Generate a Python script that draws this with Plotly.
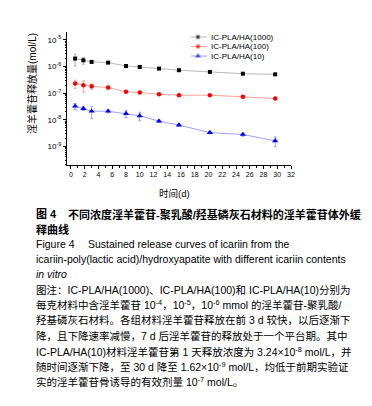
import plotly.graph_objects as go

# ---------------- data ----------------
days = [0.6, 1.8, 3.0, 5.4, 8.0, 10.0, 12.8, 15.7, 20.2, 25.0, 29.7]

ic1000 = [2.0e-6, 1.72e-6, 1.5e-6, 1.41e-6, 1.05e-6, 9.7e-7, 8.4e-7, 7.3e-7, 6.3e-7, 5.4e-7, 5.1e-7]
ic1000_err = [0.95e-6, 0.5e-6, 0.12e-6, 0.1e-6, 0.06e-6, 0.05e-6, 0.04e-6, 0.03e-6, 0.03e-6, 0.03e-6, 0.03e-6]

ic100 = [2.29e-7, 1.99e-7, 1.82e-7, 1.62e-7, 1.12e-7, 1.05e-7, 9.1e-8, 8.4e-8, 8.4e-8, 7.3e-8, 6.3e-8]
ic100_err = [0.78e-7, 0.9e-7, 0.4e-7, 0.2e-7, 0.08e-7, 0.06e-7, 0.05e-7, 0.05e-7, 0.05e-7, 0.05e-7, 0.05e-7]

ic10 = [3.24e-8, 2.65e-8, 2.1e-8, 2.1e-8, 1.72e-8, 1.41e-8, 8.9e-9, 6.3e-9, 3.3e-9, 2.8e-9, 1.62e-9]
ic10_err = [0.85e-8, 0.4e-8, 1.0e-8, 0.3e-8, 0.5e-8, 0.5e-8, 0.1e-8, 0.05e-8, 0.03e-8, 0.4e-9, 0.65e-9]

series_names = ["IC-PLA/HA(1000)", "IC-PLA/HA(100)", "IC-PLA/HA(10)"]
y_tick_vals = [1e-9, 1e-8, 1e-7, 1e-6, 1e-5]
y_tick_text = ["10<sup>-9</sup>", "10<sup>-8</sup>", "10<sup>-7</sup>", "10<sup>-6</sup>", "10<sup>-5</sup>"]
x_tick_vals = list(range(0, 33, 2))

# ---------------- styles ----------------
W, H = 372, 406
L, R, T, B = 59, 283, 24, 157   # plot area in pixels
FONT = "Liberation Sans, Arial, Noto Sans CJK SC, sans-serif"

styles = [
    dict(mc="#000000", lc="#b8b8b8", ec="#a0a0a0", sym="square", size=4),
    dict(mc="#ff0000", lc="#ffa0a0", ec="#ff8a8a", sym="circle", size=4.5),
    dict(mc="#0000ff", lc="#a0a0ff", ec="#8c8cff", sym="triangle-up", size=5.5),
]

def px(xp):
    return (xp - L) / (R - L)

def py(yp):
    return (B - yp) / (B - T)

fig = go.Figure()

for name, vals, errs, st in zip(series_names, [ic1000, ic100, ic10],
                                [ic1000_err, ic100_err, ic10_err], styles):
    fig.add_trace(go.Scatter(
        x=days, y=vals, name=name, mode="lines+markers",
        line=dict(color=st["lc"], width=1),
        marker=dict(color=st["mc"], symbol=st["sym"], size=st["size"]),
        error_y=dict(type="data", array=errs, visible=True, color=st["ec"],
                     thickness=0.8, width=1.5),
        showlegend=False, cliponaxis=False,
    ))

# manual compact legend on an overlay axis mapped to the plot area
leg_rows = [29, 38.5, 48]
for name, st, ry in zip(series_names, styles, leg_rows):
    fig.add_trace(go.Scatter(
        x=[px(183), px(190), px(199)], y=[py(ry)] * 3,
        xaxis="x2", yaxis="y2", mode="lines+markers",
        line=dict(color=st["lc"], width=1),
        marker=dict(color=st["mc"], symbol=st["sym"], size=[0, st["size"], 0]),
        showlegend=False, hoverinfo="skip", cliponaxis=False,
    ))
    fig.add_annotation(x=px(201), y=py(ry), xref="paper", yref="paper",
                       text=name, showarrow=False, xanchor="left", yanchor="middle",
                       font=dict(size=8, color="#000", family=FONT))

minor_y = [k * 10.0 ** n for n in range(-10, -4) for k in range(2, 10)]

fig.update_layout(
    width=W, height=H,
    margin=dict(l=L, r=W - R, t=T, b=H - B, pad=0),
    paper_bgcolor="white", plot_bgcolor="white",
    font=dict(family=FONT, color="#000"),
    xaxis=dict(range=[-0.58, 32], tickvals=x_tick_vals, ticks="outside", ticklen=3,
               tickwidth=0.8, tickcolor="#000", showline=True, linecolor="#000",
               linewidth=1, showgrid=False, zeroline=False,
               tickfont=dict(size=7, family=FONT),
               minor=dict(dtick=1, ticks="outside", ticklen=2, tickcolor="#000", showgrid=False)),
    yaxis=dict(type="log", range=[-9.7, -4.7], tickvals=y_tick_vals, ticktext=y_tick_text,
               ticks="outside", ticklen=3, tickwidth=0.8, tickcolor="#000",
               showline=True, linecolor="#000", linewidth=1, showgrid=False,
               zeroline=False, tickfont=dict(size=8, family=FONT),
               minor=dict(tickvals=minor_y, ticks="outside", ticklen=1.5,
                          tickcolor="#000", showgrid=False)),
    xaxis2=dict(overlaying="x", range=[0, 1], visible=False),
    yaxis2=dict(overlaying="y", range=[0, 1], visible=False),
    showlegend=False,
)

# axis titles
fig.add_annotation(x=px(24), y=py(76), xref="paper", yref="paper",
                   text="淫羊藿苷释放量(mol/L)", showarrow=False, textangle=-90,
                   xanchor="center", yanchor="middle",
                   font=dict(size=10, color="#000", family=FONT))
fig.add_annotation(x=px(166), y=py(185), xref="paper", yref="paper",
                   text="时间(d)", showarrow=False, xanchor="center", yanchor="middle",
                   font=dict(size=9.5, color="#000", family=FONT))

# caption
cap_x = 26
def cap(text, y, x=cap_x, size=10.5, bold=False):
    if bold:
        text = "<b>" + text + "</b>"
    fig.add_annotation(x=px(x), y=py(y), xref="paper", yref="paper", text=text,
                       showarrow=False, xanchor="left", yanchor="middle",
                       font=dict(size=size, color="#000", family=FONT))

cap("图 4", 206, size=11, bold=True)
cap("不同浓度淫羊藿苷-聚乳酸/羟基磷灰石材料的淫羊藿苷体外缓", 206, x=58, size=11, bold=True)
cap("释曲线", 221, size=11, bold=True)
cap("Figure 4", 236)
cap("Sustained release curves of icariin from the", 236, x=78)
cap("icariin-poly(lactic acid)/hydroxyapatite with different icariin contents", 251)
cap("<i>in vitro</i>", 266)
cap("图注：IC-PLA/HA(1000)、IC-PLA/HA(100)和 IC-PLA/HA(10)分别为", 282)
cap("每克材料中含淫羊藿苷 10<sup>-4</sup>，10<sup>-5</sup>，10<sup>-6</sup> mmol 的淫羊藿苷-聚乳酸/", 297)
cap("羟基磷灰石材料。各组材料淫羊藿苷释放在前 3 d 较快，以后逐渐下", 312)
cap("降，且下降速率减慢，7 d 后淫羊藿苷的释放处于一个平台期。其中", 328)
cap("IC-PLA/HA(10)材料淫羊藿苷第 1 天释放浓度为 3.24×10<sup>-8</sup> mol/L，并", 343)
cap("随时间逐渐下降，至 30 d 降至 1.62×10<sup>-9</sup> mol/L，均低于前期实验证", 358)
cap("实的淫羊藿苷骨诱导的有效剂量 10<sup>-7</sup> mol/L。", 373)

fig.write_html("out.html")
